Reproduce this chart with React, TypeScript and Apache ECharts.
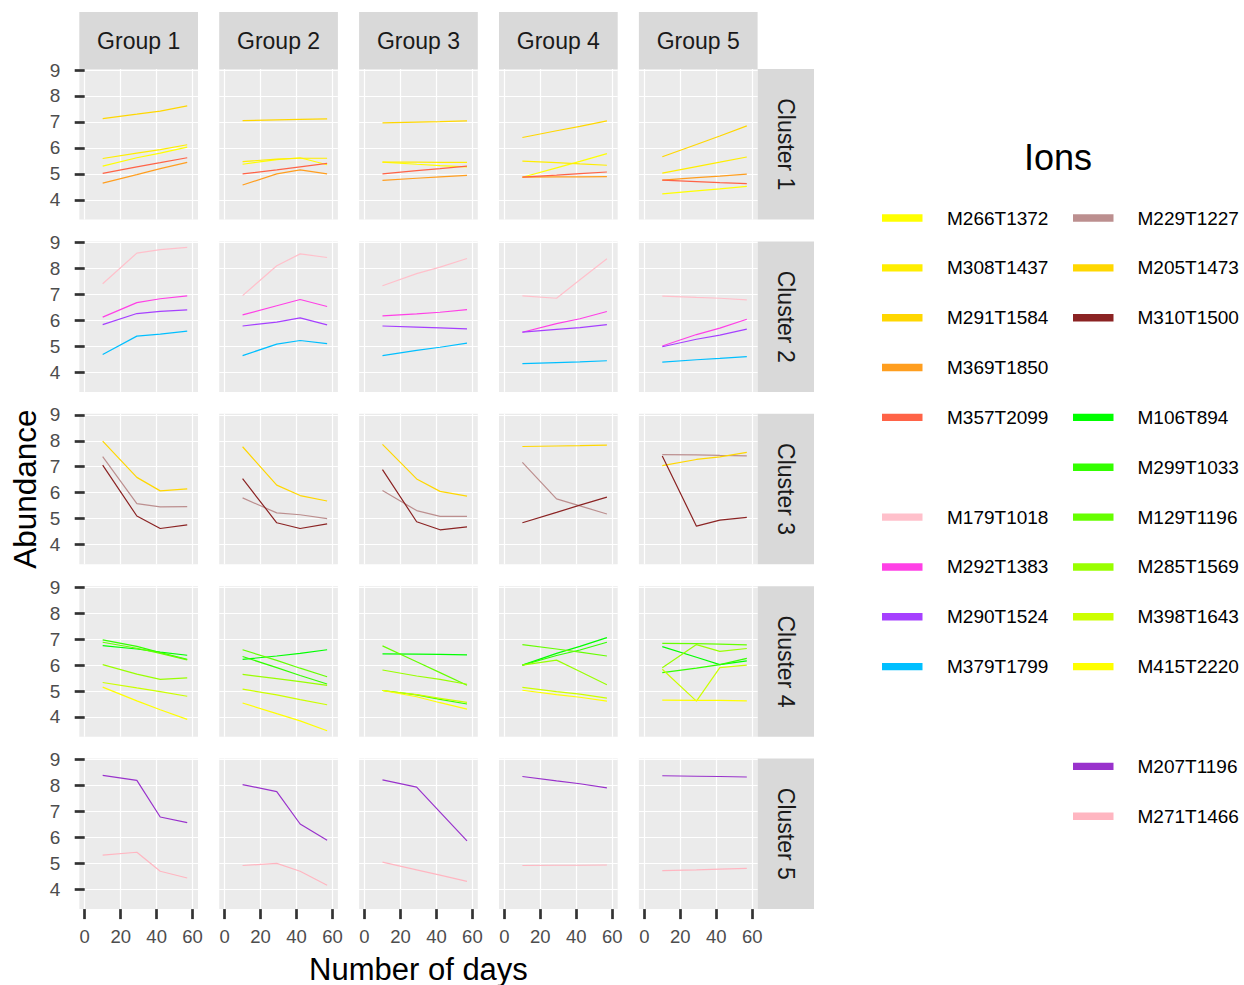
import React, { useEffect, useRef } from "react";
import * as echarts from "echarts";

// ---- data ----
const DAYS = [10, 29, 42, 57];
const GROUPS = ["Group 1", "Group 2", "Group 3", "Group 4", "Group 5"];
const CLUSTERS = ["Cluster 1", "Cluster 2", "Cluster 3", "Cluster 4", "Cluster 5"];
const X_TICKS = [0, 20, 40, 60];
const Y_TICKS = [4, 5, 6, 7, 8, 9];

// Cluster 1 ions (values per group, per day)
const M266T1372 = [[5.30, 5.62, 5.80, 6.03], [5.37, 5.55, 5.62, 5.35], [5.45, 5.37, 5.32, 5.27], [4.87, 5.23, 5.48, 5.78], [4.23, 4.34, 4.42, 4.52]];
const M308T1437 = [[5.59, 5.80, 5.93, 6.12], [5.47, 5.57, 5.60, 5.60], [5.45, 5.45, 5.44, 5.44], [5.49, 5.43, 5.38, 5.33], [5.03, 5.28, 5.45, 5.65]];
const M291T1584 = [[7.13, 7.30, 7.42, 7.62], [7.05, 7.08, 7.10, 7.12], [6.96, 6.99, 7.01, 7.04], [6.40, 6.66, 6.83, 7.04], [5.66, 6.13, 6.46, 6.85]];
const M369T1850 = [[4.64, 4.97, 5.20, 5.44], [4.57, 5.00, 5.15, 5.00], [4.75, 4.83, 4.88, 4.94], [4.87, 4.88, 4.88, 4.89], [4.76, 4.85, 4.91, 4.99]];
const M357T2099 = [[5.02, 5.27, 5.43, 5.62], [5.00, 5.15, 5.27, 5.40], [5.00, 5.12, 5.20, 5.30], [4.87, 4.95, 5.01, 5.07], [4.76, 4.70, 4.66, 4.62]];
// Cluster 2 ions
const M179T1018 = [[7.41, 8.59, 8.72, 8.81], [6.95, 8.10, 8.56, 8.42], [7.33, 7.80, 8.05, 8.38], [6.94, 6.85, 7.56, 8.37], [6.93, 6.88, 6.85, 6.79]];
const M292T1383 = [[6.12, 6.68, 6.83, 6.94], [6.21, 6.56, 6.80, 6.53], [6.17, 6.25, 6.31, 6.41], [5.54, 5.87, 6.06, 6.34], [5.01, 5.45, 5.70, 6.04]];
const M290T1524 = [[5.83, 6.26, 6.34, 6.40], [5.78, 5.93, 6.09, 5.82], [5.78, 5.74, 5.71, 5.67], [5.54, 5.65, 5.72, 5.83], [4.98, 5.27, 5.43, 5.66]];
const M379T1799 = [[4.68, 5.39, 5.47, 5.58], [4.64, 5.08, 5.22, 5.10], [4.64, 4.84, 4.96, 5.12], [4.33, 4.37, 4.40, 4.44], [4.39, 4.48, 4.53, 4.60]];
// Cluster 3 ions
const M229T1227 = [[7.39, 5.58, 5.45, 5.46], [5.80, 5.22, 5.15, 5.00], [6.08, 5.31, 5.09, 5.09], [7.17, 5.76, 5.49, 5.18], [7.47, 7.46, 7.44, 7.42]];
const M205T1473 = [[7.99, 6.59, 6.07, 6.15], [7.77, 6.29, 5.89, 5.68], [7.86, 6.53, 6.05, 5.87], [7.78, 7.80, 7.81, 7.83], [7.04, 7.28, 7.38, 7.55]];
const M310T1500 = [[7.06, 5.10, 4.62, 4.76], [6.54, 4.84, 4.62, 4.80], [6.89, 4.88, 4.57, 4.68], [4.84, 5.24, 5.52, 5.83], [7.41, 4.71, 4.94, 5.05]];
// Cluster 4 ions
const M106T894 = [[6.75, 6.62, 6.50, 6.38], [6.22, 6.35, 6.45, 6.59], [6.43, 6.42, 6.41, 6.39], [6.00, 6.45, 6.72, 7.06], [6.71, 6.30, 6.02, 6.16]];
const M299T1033 = [[6.97, 6.72, 6.48, 6.22], [6.33, 5.90, 5.60, 5.27], [5.02, 4.85, 4.68, 4.50], [6.00, 6.37, 6.58, 6.88], [5.71, 5.88, 6.02, 6.26]];
const M129T1196 = [[6.88, 6.65, 6.45, 6.20], [6.59, 6.18, 5.88, 5.55], [6.74, 6.13, 5.71, 5.22], [6.79, 6.62, 6.50, 6.35], [6.84, 6.83, 6.81, 6.78]];
const M285T1569 = [[6.02, 5.65, 5.45, 5.51], [5.64, 5.48, 5.36, 5.22], [5.81, 5.58, 5.45, 5.26], [6.00, 6.19, 5.75, 5.24], [5.90, 6.79, 6.53, 6.64]];
const M398T1643 = [[5.33, 5.12, 4.98, 4.80], [5.07, 4.85, 4.67, 4.47], [5.02, 4.86, 4.72, 4.56], [5.14, 4.98, 4.88, 4.73], [5.84, 4.61, 5.90, 6.00]];
const M415T2220 = [[5.15, 4.62, 4.28, 3.91], [4.54, 4.13, 3.85, 3.47], [5.02, 4.78, 4.55, 4.30], [5.03, 4.86, 4.76, 4.61], [4.65, 4.64, 4.64, 4.62]];
// Cluster 5 ions
const M207T1196 = [[8.39, 8.20, 6.79, 6.57], [8.04, 7.77, 6.52, 5.89], [8.22, 7.94, 6.98, 5.87], [8.35, 8.18, 8.07, 7.91], [8.38, 8.36, 8.35, 8.33]];
const M271T1466 = [[5.32, 5.43, 4.70, 4.44], [4.92, 5.00, 4.70, 4.16], [5.05, 4.75, 4.55, 4.31], [4.92, 4.93, 4.93, 4.94], [4.72, 4.75, 4.78, 4.81]];

const IONS = [
  { name: "M266T1372", cluster: 0, color: "#FFFF00", values: M266T1372 },
  { name: "M308T1437", cluster: 0, color: "#FFEE00", values: M308T1437 },
  { name: "M291T1584", cluster: 0, color: "#FFD700", values: M291T1584 },
  { name: "M369T1850", cluster: 0, color: "#FF9E1F", values: M369T1850 },
  { name: "M357T2099", cluster: 0, color: "#FF6347", values: M357T2099 },
  { name: "M179T1018", cluster: 1, color: "#FFC0CB", values: M179T1018 },
  { name: "M292T1383", cluster: 1, color: "#FF40E6", values: M292T1383 },
  { name: "M290T1524", cluster: 1, color: "#A640FF", values: M290T1524 },
  { name: "M379T1799", cluster: 1, color: "#00BFFF", values: M379T1799 },
  { name: "M229T1227", cluster: 2, color: "#BC8F8F", values: M229T1227 },
  { name: "M205T1473", cluster: 2, color: "#FFD700", values: M205T1473 },
  { name: "M310T1500", cluster: 2, color: "#8B2323", values: M310T1500 },
  { name: "M106T894", cluster: 3, color: "#00FF00", values: M106T894 },
  { name: "M299T1033", cluster: 3, color: "#33FF00", values: M299T1033 },
  { name: "M129T1196", cluster: 3, color: "#66FF00", values: M129T1196 },
  { name: "M285T1569", cluster: 3, color: "#99FF00", values: M285T1569 },
  { name: "M398T1643", cluster: 3, color: "#CCFF00", values: M398T1643 },
  { name: "M415T2220", cluster: 3, color: "#FFFF00", values: M415T2220 },
  { name: "M207T1196", cluster: 4, color: "#9932CC", values: M207T1196 },
  { name: "M271T1466", cluster: 4, color: "#FFB6C1", values: M271T1466 },
];

// legend slots: [column, row, ion name]
const LEGEND_SLOTS: [number, number, string][] = [
  [0, 0, "M266T1372"], [0, 1, "M308T1437"], [0, 2, "M291T1584"], [0, 3, "M369T1850"], [0, 4, "M357T2099"],
  [0, 6, "M179T1018"], [0, 7, "M292T1383"], [0, 8, "M290T1524"], [0, 9, "M379T1799"],
  [1, 0, "M229T1227"], [1, 1, "M205T1473"], [1, 2, "M310T1500"],
  [1, 4, "M106T894"], [1, 5, "M299T1033"], [1, 6, "M129T1196"], [1, 7, "M285T1569"], [1, 8, "M398T1643"], [1, 9, "M415T2220"],
  [1, 11, "M207T1196"], [1, 12, "M271T1466"],
];

// ---- layout ----
const FONT = "'Liberation Sans', Arial, Helvetica, sans-serif";
const P_LEFT0 = 79.3;
const P_STEP_X = 139.9;
const P_W = 118.7;
const P_TOP0 = 69;
const P_STEP_Y = 172.4;
const P_H = 150.5;
const X_MIN = -3;
const X_MAX = 63;
const Y_MIN = 3.24;
const Y_MAX = 9.04;

export default function App() {
  const ref = useRef<HTMLDivElement>(null);
  useEffect(() => {
    document.body.style.margin = "0";
    if (!ref.current) return;
    const chart = echarts.init(ref.current, null, { renderer: "svg" });

    const grids: any[] = [];
    const xAxes: any[] = [];
    const yAxes: any[] = [];
    for (let r = 0; r < 5; r++) {
      for (let c = 0; c < 5; c++) {
        const idx = r * 5 + c;
        grids.push({
          left: P_LEFT0 + c * P_STEP_X,
          top: P_TOP0 + r * P_STEP_Y,
          width: P_W,
          height: P_H,
          show: true,
          backgroundColor: "#EBEBEB",
          borderWidth: 0,
          containLabel: false,
        });
        xAxes.push({
          gridIndex: idx,
          type: "value",
          min: X_MIN,
          max: X_MAX,
          axisLine: { show: false },
          axisTick: {
            show: r === 4,
            customValues: X_TICKS,
            length: 10,
            lineStyle: { color: "#333333", width: 2.7 },
          },
          axisLabel: {
            show: r === 4,
            customValues: X_TICKS,
            color: "#4D4D4D",
            fontSize: 18.5,
            fontFamily: FONT,
            margin: 18,
          },
          splitLine: { show: true, lineStyle: { color: "#FFFFFF", width: 1.2 } },
        });
        yAxes.push({
          gridIndex: idx,
          type: "value",
          min: Y_MIN,
          max: Y_MAX,
          axisLine: { show: false },
          axisTick: {
            show: c === 0,
            customValues: Y_TICKS,
            length: 10,
            lineStyle: { color: "#333333", width: 2.7 },
          },
          axisLabel: {
            show: c === 0,
            customValues: Y_TICKS,
            color: "#4D4D4D",
            fontSize: 19,
            fontFamily: FONT,
            margin: 19,
          },
          splitLine: { show: true, lineStyle: { color: "#FFFFFF", width: 1.2 } },
        });
      }
    }

    const series: any[] = [];
    IONS.forEach((ion) => {
      ion.values.forEach((vals, g) => {
        const idx = ion.cluster * 5 + g;
        series.push({
          type: "line",
          name: ion.name,
          xAxisIndex: idx,
          yAxisIndex: idx,
          data: DAYS.map((d, i) => [d, vals[i]]),
          showSymbol: false,
          silent: true,
          lineStyle: { color: ion.color, width: 1.2 },
          itemStyle: { color: ion.color },
        });
      });
    });

    const graphics: any[] = [];
    // column strips
    GROUPS.forEach((gname, c) => {
      const x = P_LEFT0 + c * P_STEP_X;
      graphics.push({
        type: "rect",
        shape: { x, y: 12, width: P_W, height: 57 },
        style: { fill: "#D9D9D9" },
        silent: true,
      });
      graphics.push({
        type: "text",
        x: x + P_W / 2,
        y: 41,
        style: {
          text: gname,
          fill: "#1A1A1A",
          fontSize: 23,
          fontFamily: FONT,
          align: "center",
          verticalAlign: "middle",
        },
        silent: true,
      });
    });
    // row strips
    const stripX = P_LEFT0 + 4 * P_STEP_X + P_W;
    CLUSTERS.forEach((cname, r) => {
      const y = P_TOP0 + r * P_STEP_Y;
      graphics.push({
        type: "rect",
        shape: { x: stripX, y, width: 56.4, height: P_H },
        style: { fill: "#D9D9D9" },
        silent: true,
      });
      graphics.push({
        type: "text",
        x: stripX + 28.5,
        y: y + P_H / 2,
        rotation: -Math.PI / 2,
        style: {
          text: cname,
          fill: "#1A1A1A",
          fontSize: 23,
          fontFamily: FONT,
          align: "center",
          verticalAlign: "middle",
        },
        silent: true,
      });
    });
    // axis titles
    graphics.push({
      type: "text",
      x: P_LEFT0 + (4 * P_STEP_X + P_W) / 2,
      y: 969,
      style: {
        text: "Number of days",
        fill: "#000000",
        fontSize: 31,
        fontFamily: FONT,
        align: "center",
        verticalAlign: "middle",
      },
      silent: true,
    });
    graphics.push({
      type: "text",
      x: 25,
      y: P_TOP0 + (4 * P_STEP_Y + P_H) / 2,
      rotation: Math.PI / 2,
      style: {
        text: "Abundance",
        fill: "#000000",
        fontSize: 31.5,
        fontFamily: FONT,
        align: "center",
        verticalAlign: "middle",
      },
      silent: true,
    });
    // legend
    graphics.push({
      type: "text",
      x: 1058,
      y: 157,
      style: {
        text: "Ions",
        fill: "#000000",
        fontSize: 36,
        fontFamily: FONT,
        align: "center",
        verticalAlign: "middle",
      },
      silent: true,
    });
    const colorOf: Record<string, string> = {};
    IONS.forEach((ion) => (colorOf[ion.name] = ion.color));
    LEGEND_SLOTS.forEach(([col, row, name]) => {
      const kx = col === 0 ? 882 : 1073;
      const tx = col === 0 ? 947 : 1137.5;
      const cy = 218 + row * 49.85;
      graphics.push({
        type: "rect",
        shape: { x: kx, y: cy - 3.7, width: 40.5, height: 7.4 },
        style: { fill: colorOf[name] },
        silent: true,
      });
      graphics.push({
        type: "text",
        x: tx,
        y: cy,
        style: {
          text: name,
          fill: "#000000",
          fontSize: 19,
          fontFamily: FONT,
          align: "left",
          verticalAlign: "middle",
        },
        silent: true,
      });
    });

    chart.setOption({
      animation: false,
      backgroundColor: "#FFFFFF",
      grid: grids,
      xAxis: xAxes,
      yAxis: yAxes,
      series,
      graphic: graphics,
    });
    return () => chart.dispose();
  }, []);
  return <div ref={ref} style={{ width: 1244, height: 985 }} />;
}
